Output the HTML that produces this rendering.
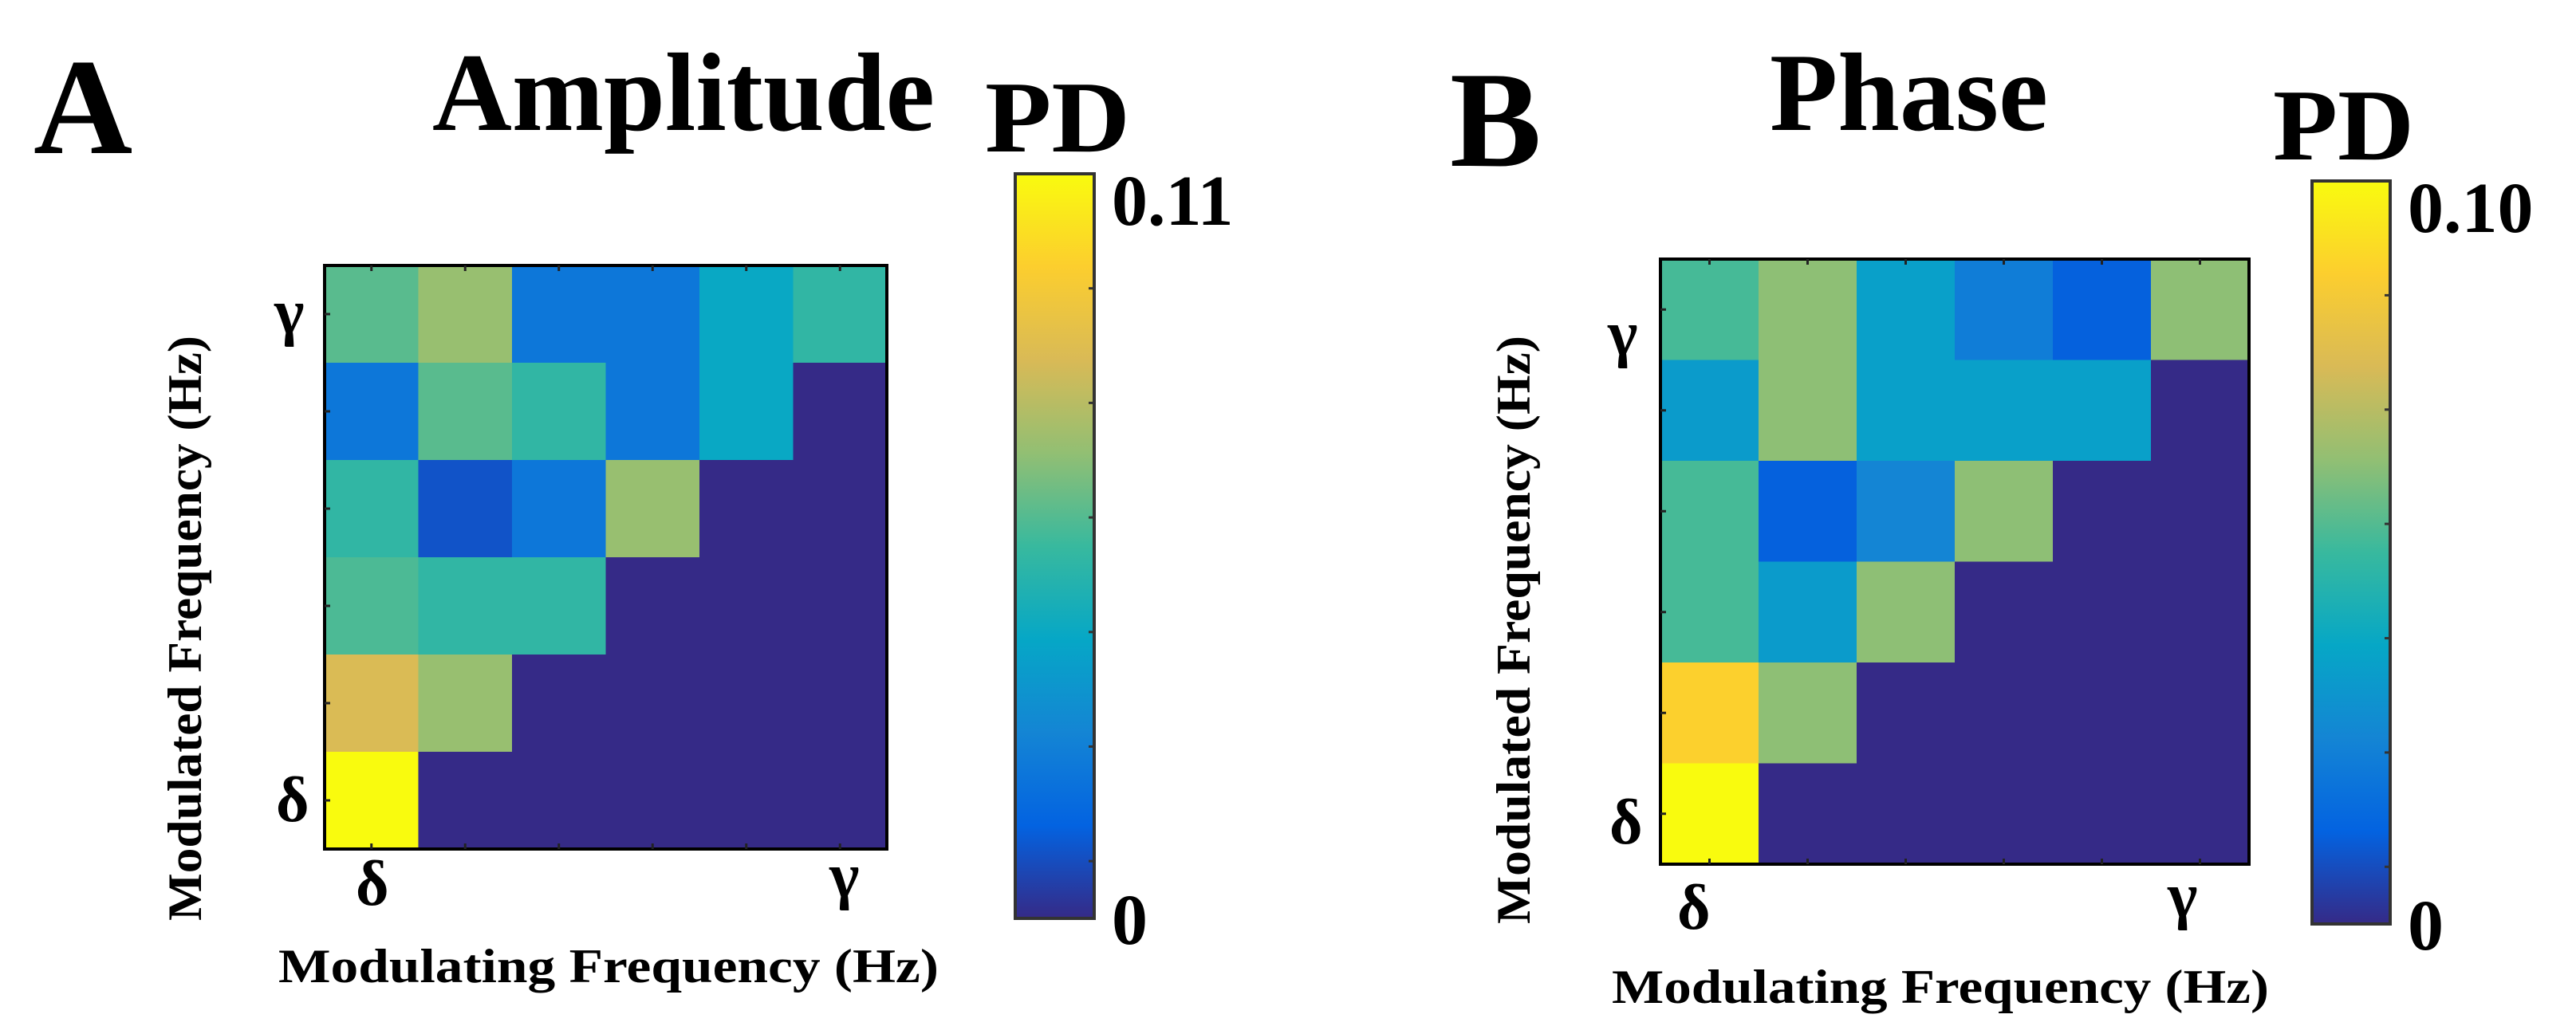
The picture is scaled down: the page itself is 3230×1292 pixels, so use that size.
<!DOCTYPE html>
<html><head><meta charset="utf-8">
<style>
html,body{margin:0;padding:0;background:#fff;}
svg{display:block;}
text{font-family:"Liberation Serif",serif;font-weight:bold;fill:#000;}
</style></head>
<body>
<svg id="fig" width="3230" height="1292" viewBox="0 0 3230 1292" xmlns="http://www.w3.org/2000/svg">
<defs>
<linearGradient id="parula" x1="0" y1="1" x2="0" y2="0">
<stop offset="0" stop-color="#352A87"/><stop offset="0.125" stop-color="#0363E1"/>
<stop offset="0.25" stop-color="#1485D4"/><stop offset="0.375" stop-color="#06A7C6"/>
<stop offset="0.5" stop-color="#38B99E"/><stop offset="0.625" stop-color="#92BF73"/>
<stop offset="0.75" stop-color="#D9BA56"/><stop offset="0.875" stop-color="#FCCE2E"/>
<stop offset="1" stop-color="#F9FB0E"/>
</linearGradient>
</defs>
<g id="panelA"></g>
<g id="panelB"></g>
</svg>
<script>
// Amplitude panel values (rows top = gamma to bottom = delta), PD units
const ampMax = 0.11;
const ampRow0 = [0.060, 0.070, 0.022, 0.022, 0.042, 0.053];
const ampRow1 = [0.022, 0.060, 0.053, 0.022, 0.042, 0];
const ampRow2 = [0.053, 0.010, 0.022, 0.070, 0, 0];
const ampRow3 = [0.058, 0.053, 0.053, 0, 0, 0];
const ampRow4 = [0.083, 0.070, 0, 0, 0, 0];
const ampRow5 = [0.110, 0, 0, 0, 0, 0];
// Phase panel values
const phMax = 0.10;
const phRow0 = [0.052, 0.062, 0.035, 0.022, 0.012, 0.062];
const phRow1 = [0.033, 0.062, 0.035, 0.035, 0.035, 0];
const phRow2 = [0.052, 0.012, 0.025, 0.062, 0, 0];
const phRow3 = [0.052, 0.033, 0.062, 0, 0, 0];
const phRow4 = [0.088, 0.062, 0, 0, 0, 0];
const phRow5 = [0.100, 0, 0, 0, 0, 0];
const ampTickLabels = ["0", "0.11"];
const phTickLabels = ["0", "0.10"];

const stops = [[53,42,135],[3,99,225],[20,133,212],[6,167,198],[56,185,158],[146,191,115],[217,186,86],[252,206,46],[249,251,14]];
function parula(t){
  t = Math.max(0, Math.min(1, t));
  const p = t*(stops.length-1), i = Math.min(Math.floor(p), stops.length-2), f = p-i;
  const c = stops[i].map((v,k)=>Math.round(v+(stops[i+1][k]-v)*f));
  return `rgb(${c[0]},${c[1]},${c[2]})`;
}
const NS = "http://www.w3.org/2000/svg";
function mk(tag, attrs, parent){
  const e = document.createElementNS(NS, tag);
  for (const k in attrs) e.setAttribute(k, attrs[k]);
  parent.appendChild(e); return e;
}
function txt(parent, x, y, size, str, extra){
  const t = mk('text', Object.assign({x:x, y:y, 'font-size':size}, extra||{}), parent);
  t.textContent = str; return t;
}

function drawPanel(g, cfg){
  const rows = cfg.rows, n = rows.length, m = rows[0].length;
  const xScale = c => cfg.hx0 + (cfg.hx1-cfg.hx0)*c/m;
  const yScale = r => cfg.hy0 + (cfg.hy1-cfg.hy0)*r/n;
  for (let r=0;r<n;r++) for (let c=0;c<m;c++){
    const rc = mk('rect', {x:xScale(c), y:yScale(r), width:xScale(c+1)-xScale(c)+0.5, height:yScale(r+1)-yScale(r)+0.5, fill:parula(rows[r][c]/cfg.max)}, g);
    
    
  }
  const fr = mk('rect', {x:cfg.hx0, y:cfg.hy0, width:cfg.hx1-cfg.hx0, height:cfg.hy1-cfg.hy0, fill:'none', stroke:'#000', 'stroke-width':4}, g);
  
  
  for (let c=0;c<m;c++){
    const x = (xScale(c)+xScale(c+1))/2;
    mk('line',{x1:x,y1:cfg.hy0,x2:x,y2:cfg.hy0+7,stroke:'#222','stroke-width':3},g);
    mk('line',{x1:x,y1:cfg.hy1,x2:x,y2:cfg.hy1-7,stroke:'#222','stroke-width':3},g);
  }
  for (let r=0;r<n;r++){
    const y = (yScale(r)+yScale(r+1))/2;
    mk('line',{x1:cfg.hx0,y1:y,x2:cfg.hx0+7,y2:y,stroke:'#222','stroke-width':3},g);
  }
  const cb = mk('rect',{x:cfg.cx0,y:cfg.cy0,width:cfg.cx1-cfg.cx0,height:cfg.cy1-cfg.cy0,fill:'url(#parula)',stroke:'#333','stroke-width':4},g);
  
  
  for (let k=1;k<7;k++){
    const y = cfg.cy0 + (cfg.cy1-cfg.cy0)*k/6.5;
    mk('line',{x1:cfg.cx1,y1:y,x2:cfg.cx1-7,y2:y,stroke:'#333','stroke-width':3},g);
  }
  let t;
  t = txt(g, cfg.cx1+22, cfg.cy0+64, 90, cfg.ticks[1]);  
  t = txt(g, cfg.cx1+22, cfg.cy1+32, 90, cfg.ticks[0]);  
  t = txt(g, cfg.letter[1], cfg.letter[2], 172, cfg.letter[0]);  
  t = txt(g, cfg.title[1], cfg.title[2], 140, cfg.title[0], {textLength:cfg.title[3], lengthAdjust:'spacingAndGlyphs'});  
  t = txt(g, cfg.pd[0], cfg.pd[1], 128, 'PD', {textLength:cfg.pd[2], lengthAdjust:'spacingAndGlyphs'});  
  t = txt(g, cfg.yg[0], cfg.yg[1], 80, 'γ');  
  t = txt(g, cfg.yd[0], cfg.yd[1], 80, 'δ');  
  t = txt(g, cfg.xd[0], cfg.xd[1], 80, 'δ');  
  t = txt(g, cfg.xg[0], cfg.xg[1], 80, 'γ');  
  t = txt(g, cfg.xl[0], cfg.xl[1], 60, 'Modulating Frequency (Hz)', {textLength:cfg.xl[2], lengthAdjust:'spacingAndGlyphs'});  
  t = txt(g, 0, 0, 60, 'Modulated Frequency (Hz)', {textLength:cfg.yl[2], lengthAdjust:'spacingAndGlyphs', transform:`translate(${cfg.yl[0]},${cfg.yl[1]}) rotate(-90)`});  
}

drawPanel(document.getElementById('panelA'), {
  rows:[ampRow0,ampRow1,ampRow2,ampRow3,ampRow4,ampRow5], max:ampMax, ticks:ampTickLabels,
  hx0:407, hx1:1112, hy0:333, hy1:1065,
  cx0:1273, cx1:1372, cy0:218, cy1:1152,
  letter:['A',42,192], title:['Amplitude',542,163,630], pd:[1235,190,182],
  yg:[344,418], yd:[346,1030], xd:[446,1135], xg:[1040,1125],
  xl:[349,1232,828], yl:[252,1155,734]
});
drawPanel(document.getElementById('panelB'), {
  rows:[phRow0,phRow1,phRow2,phRow3,phRow4,phRow5], max:phMax, ticks:phTickLabels,
  hx0:2082, hx1:2820, hy0:325, hy1:1084,
  cx0:2899, cx1:2997, cy0:227, cy1:1159,
  letter:['B',1818,208], title:['Phase',2219,163,349], pd:[2850,200,177],
  yg:[2016,445], yd:[2018,1058], xd:[2103,1165], xg:[2718,1150],
  xl:[2021,1258,824], yl:[1918,1159,738]
});
</script>
</body></html>
